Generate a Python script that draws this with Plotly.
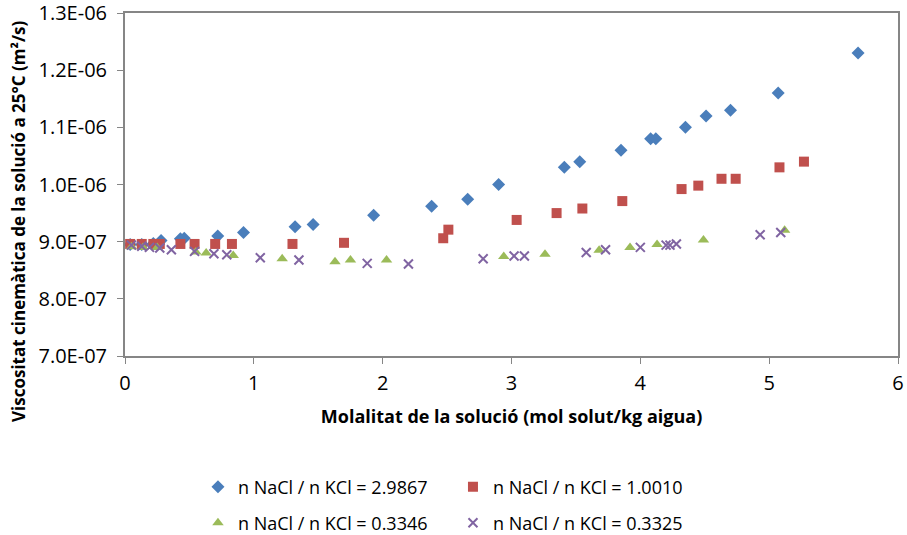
import plotly.graph_objects as go

# Series data (molality mol/kg, kinematic viscosity m2/s)
x_a = [0.04, 0.13, 0.22, 0.28, 0.43, 0.46, 0.72, 0.92, 1.32, 1.46, 1.93, 2.38, 2.66, 2.90, 3.41, 3.53, 3.85, 4.08, 4.12, 4.35, 4.51, 4.70, 5.07, 5.69]
y_a = [0.895e-6, 0.895e-6, 0.897e-6, 0.902e-6, 0.905e-6, 0.906e-6, 0.910e-6, 0.916e-6, 0.926e-6, 0.930e-6, 0.946e-6, 0.962e-6, 0.974e-6, 1.000e-6, 1.030e-6, 1.040e-6, 1.060e-6, 1.080e-6, 1.080e-6, 1.100e-6, 1.120e-6, 1.130e-6, 1.160e-6, 1.230e-6]

x_b = [0.04, 0.13, 0.22, 0.27, 0.43, 0.54, 0.70, 0.83, 1.30, 1.70, 2.47, 2.51, 3.04, 3.35, 3.55, 3.86, 4.32, 4.45, 4.63, 4.74, 5.08, 5.27]
y_b = [0.896e-6, 0.896e-6, 0.896e-6, 0.896e-6, 0.896e-6, 0.896e-6, 0.896e-6, 0.896e-6, 0.896e-6, 0.898e-6, 0.906e-6, 0.921e-6, 0.938e-6, 0.950e-6, 0.958e-6, 0.971e-6, 0.992e-6, 0.998e-6, 1.010e-6, 1.010e-6, 1.030e-6, 1.040e-6]

x_c = [0.05, 0.14, 0.25, 0.55, 0.63, 0.84, 1.22, 1.63, 1.75, 2.03, 2.94, 3.26, 3.68, 3.92, 4.13, 4.49, 5.12]
y_c = [0.891e-6, 0.890e-6, 0.890e-6, 0.882e-6, 0.880e-6, 0.876e-6, 0.870e-6, 0.865e-6, 0.868e-6, 0.868e-6, 0.874e-6, 0.878e-6, 0.885e-6, 0.890e-6, 0.895e-6, 0.903e-6, 0.920e-6]

x_d = [0.05, 0.13, 0.19, 0.27, 0.36, 0.54, 0.69, 0.79, 1.05, 1.35, 1.88, 2.20, 2.78, 3.02, 3.10, 3.58, 3.73, 4.00, 4.20, 4.23, 4.28, 4.93, 5.09]
y_d = [0.894e-6, 0.892e-6, 0.890e-6, 0.889e-6, 0.886e-6, 0.883e-6, 0.879e-6, 0.877e-6, 0.872e-6, 0.868e-6, 0.862e-6, 0.861e-6, 0.870e-6, 0.875e-6, 0.875e-6, 0.881e-6, 0.886e-6, 0.890e-6, 0.894e-6, 0.894e-6, 0.896e-6, 0.912e-6, 0.916e-6]

names = ["n NaCl / n KCl = 2.9867", "n NaCl / n KCl = 1.0010",
         "n NaCl / n KCl = 0.3346", "n NaCl / n KCl = 0.3325"]

y_tickvals = [7.0e-7, 8.0e-7, 9.0e-7, 1.0e-6, 1.1e-6, 1.2e-6, 1.3e-6]
y_ticktext = ["7.0E-07", "8.0E-07", "9.0E-07", "1.0E-06", "1.1E-06", "1.2E-06", "1.3E-06"]
x_tickvals = [0, 1, 2, 3, 4, 5, 6]

y_title = "<b>Viscositat cinemàtica de la solució a 25°C (m²/s)</b>"
x_title = "<b>Molalitat de la solució (mol solut/kg aigua)</b>"

FONT = "Open Sans"

fig = go.Figure()
fig.add_trace(go.Scatter(x=x_a, y=y_a, mode="markers", name=names[0],
                         marker=dict(symbol="diamond", size=10, color="#4A7EBB"),
                         legend="legend"))
fig.add_trace(go.Scatter(x=x_b, y=y_b, mode="markers", name=names[1],
                         marker=dict(symbol="square", size=10, color="#C0504D"),
                         legend="legend"))
fig.add_trace(go.Scatter(x=x_c, y=y_c, mode="markers", name=names[2],
                         marker=dict(symbol="triangle-up", size=10, color="#9BBB59"),
                         legend="legend2"))
fig.add_trace(go.Scatter(x=x_d, y=y_d, mode="markers", name=names[3],
                         marker=dict(symbol="x-thin", size=9, color="#8064A2",
                                     line=dict(width=2, color="#8064A2")),
                         legend="legend2"))

axis_common = dict(showgrid=False, zeroline=False, showline=True, linecolor="#868686",
                   linewidth=2, mirror=True, ticks="outside", ticklen=6, tickwidth=1,
                   tickcolor="#868686", automargin=False, ticklabeloverflow="allow",
                   tickfont=dict(size=20, color="#000000", family=FONT))

fig.update_xaxes(range=[0, 6], tickvals=x_tickvals, ticklabelstandoff=2, **axis_common,
                 title=dict(text=x_title,
                            font=dict(size=18, family=FONT, color="#000000"), standoff=15))
fig.update_yaxes(range=[7.0e-7, 1.3e-6], tickvals=y_tickvals, ticktext=y_ticktext,
                 ticklabelstandoff=6, **axis_common)

fig.add_annotation(text=y_title, textangle=-90, xref="paper", yref="paper",
                   x=(18 - 125) / 773, y=1 - (222 - 13) / 343, xanchor="center", yanchor="middle",
                   showarrow=False, font=dict(size=17, family=FONT, color="#000000"))

leg_common = dict(orientation="h", xanchor="left", yanchor="middle", xref="paper", yref="container",
                  entrywidth=210, entrywidthmode="pixels", font=dict(size=18, family=FONT, color="#000000"),
                  itemwidth=30, bgcolor="rgba(0,0,0,0)")

fig.update_layout(
    width=907, height=535,
    margin=dict(l=125, r=9, t=13, b=179, autoexpand=False),
    paper_bgcolor="white", plot_bgcolor="white",
    font=dict(family=FONT, color="#000000"),
    showlegend=True,
    legend=dict(x=0.0944, y=1 - 487 / 535, **leg_common),
    legend2=dict(x=0.0944, y=1 - 523 / 535, **leg_common),
)

fig.write_html("out.html")
